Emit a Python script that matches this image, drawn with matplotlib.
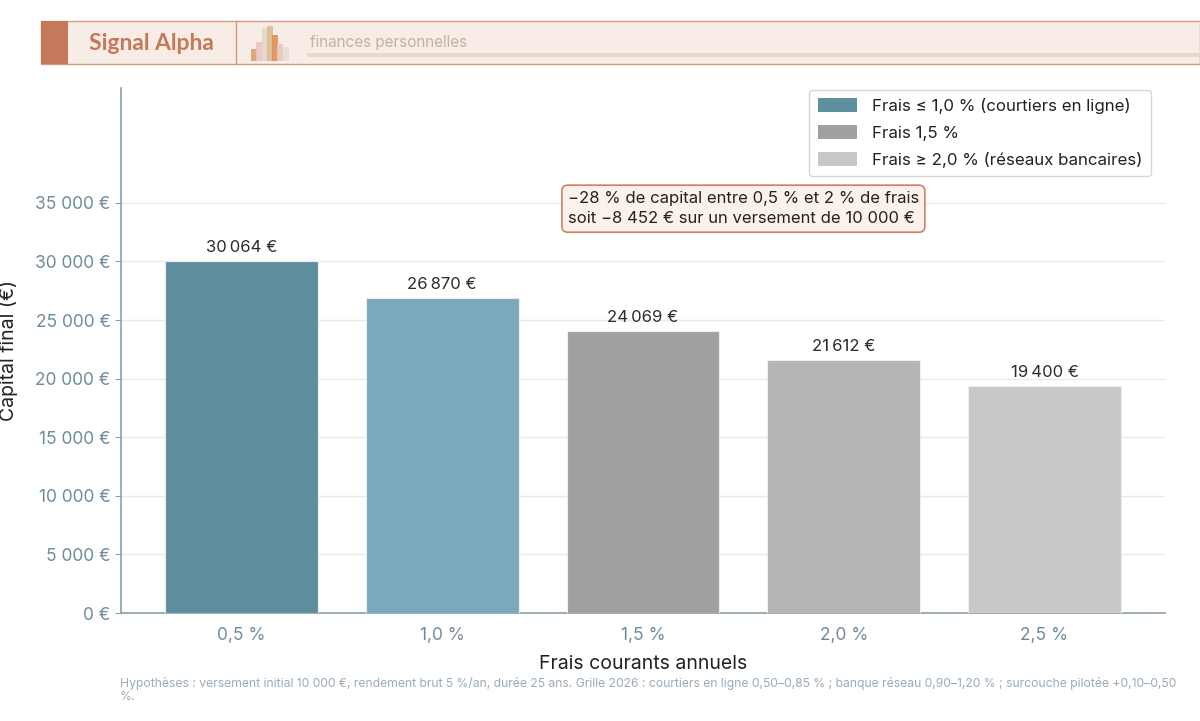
import matplotlib.pyplot as plt
from matplotlib.patches import Rectangle, Patch
from matplotlib.ticker import FuncFormatter

plt.rcParams['font.family'] = ['Inter', 'DejaVu Sans']

# data
fee_labels = ['0,5 %', '1,0 %', '1,5 %', '2,0 %', '2,5 %']
final_capital = [30064, 26870, 24069, 21612, 19400]
bar_colors = ['#5f8f9f', '#7ba9bb', '#a0a0a0', '#b5b5b5', '#c8c8c8']
legend_labels = ['Frais ≤ 1,0 % (courtiers en ligne)', 'Frais 1,5 %',
                 'Frais ≥ 2,0 % (réseaux bancaires)']
legend_colors = ['#5f8f9f', '#a0a0a0', '#c8c8c8']
icon_heights = [0.35, 0.55, 0.95, 1.0, 0.75, 0.5, 0.4]

fig = plt.figure(figsize=(12, 7.21), dpi=100)
ax = fig.add_axes([121 / 1200, 1 - 613 / 721, 1044 / 1200, 525 / 721])

x = range(len(fee_labels))
ax.bar(x, final_capital, width=0.76, color=bar_colors, edgecolor='#eeeeee',
       linewidth=0.8, zorder=3)
for xi, v in zip(x, final_capital):
    txt = f'{v:,}'.replace(',', '\u202f') + ' €'
    ax.text(xi, v + 500, txt, ha='center', va='bottom', fontsize=12,
            color='#2b2b2b', zorder=4)

ax.set_xlim(-0.6, 4.6)
ax.set_ylim(0, 44800)
ax.set_yticks(range(0, 35001, 5000))
ax.yaxis.set_major_formatter(FuncFormatter(
    lambda v, p: f'{int(v):,}'.replace(',', ' ') + ' €'))
ax.set_xticks(list(x))
ax.set_xticklabels(fee_labels)
ax.tick_params(axis='both', colors='#8aa0ad', labelcolor='#6f8c9d',
               labelsize=12.5, length=4)
ax.tick_params(axis='x', length=0, pad=10)
ax.grid(axis='y', color='#eaeaea', linewidth=1, zorder=0)
for s in ['top', 'right']:
    ax.spines[s].set_visible(False)
for s in ['left', 'bottom']:
    ax.spines[s].set_color('#8aa0ad')
    ax.spines[s].set_linewidth(1.2)

ax.set_xlabel('Frais courants annuels', fontsize=14, color='#222222', labelpad=8)
ax.set_ylabel('Capital final (€)', fontsize=14, color='#222222')
ax.yaxis.set_label_coords(-0.099, 0.5)

handles = [Patch(facecolor=c, edgecolor='none') for c in legend_colors]
leg = ax.legend(handles, legend_labels, loc='upper right', fontsize=12.2,
                frameon=True, fancybox=True, borderpad=0.5, labelspacing=0.65,
                handlelength=2.3, handleheight=0.9, handletextpad=0.9,
                bbox_to_anchor=(0.9945, 1.013))
leg.get_frame().set_edgecolor('#cccccc')
for t in leg.get_texts():
    t.set_color('#222222')

ax.text(2.5, 34500,
        '\u221228 % de capital entre 0,5 % et 2 % de frais\n'
        'soit \u22128 452 € sur un versement de 10 000 €',
        ha='center', va='center', multialignment='left', fontsize=12,
        color='#222222', linespacing=1.45,
        bbox=dict(boxstyle='round,pad=0.35', facecolor='#fdf1ec',
                  edgecolor='#d08060', linewidth=1.2), zorder=5)

# header band
band_y = 1 - 64 / 721
band_h = 43 / 721
fig.patches.append(Rectangle((41 / 1200, band_y), 1 - 41 / 1200, band_h,
                             transform=fig.transFigure, facecolor='#f7ece6',
                             edgecolor='#d49a80', linewidth=1))
fig.patches.append(Rectangle((41 / 1200, band_y), 27 / 1200, band_h,
                             transform=fig.transFigure, facecolor='#c47a5a',
                             edgecolor='none'))
fig.lines.append(plt.Line2D([236 / 1200, 236 / 1200], [band_y, band_y + band_h],
                            transform=fig.transFigure, color='#d49a80', lw=1))
fig.text(89 / 1200, 1 - 43 / 721, 'Signal Alpha', fontsize=16.5,
         fontweight='bold', color='#c47a5a', va='center',
         family=['Lato', 'DejaVu Sans'])
fig.text(310 / 1200, 1 - 42 / 721, 'finances personnelles', fontsize=11,
         color='#c8b0a0', va='center')
fig.patches.append(Rectangle((307 / 1200, 1 - 57 / 721), 1 - 307 / 1200, 4 / 721,
                             transform=fig.transFigure, facecolor='#e5d8cc',
                             edgecolor='none'))
icon_colors = ['#d99a6a', '#e8c4c0', '#e3d6c4', '#d9b98f', '#e08a50', '#e8c4c0', '#e5ddd0']
icon_x = [251, 256, 262, 267, 272, 277, 283]
for ix, ih, ic in zip(icon_x, icon_heights, icon_colors):
    fig.patches.append(Rectangle((ix / 1200, 1 - 61 / 721), 6 / 1200, ih * 35 / 721,
                                 transform=fig.transFigure, facecolor=ic,
                                 edgecolor='none', alpha=0.85))

fig.text(120 / 1200, 1 - 690 / 721,
         'Hypothèses : versement initial 10 000 €, rendement brut 5 %/an, durée 25 ans. '
         'Grille 2026 : courtiers en ligne 0,50–0,85 % ; banque réseau 0,90–1,20 % ; '
         'surcouche pilotée +0,10–0,50\n%.',
         fontsize=8.75, color='#9aabb8', va='center', linespacing=1.0)

fig.savefig('out.png', dpi=100, facecolor='white')
